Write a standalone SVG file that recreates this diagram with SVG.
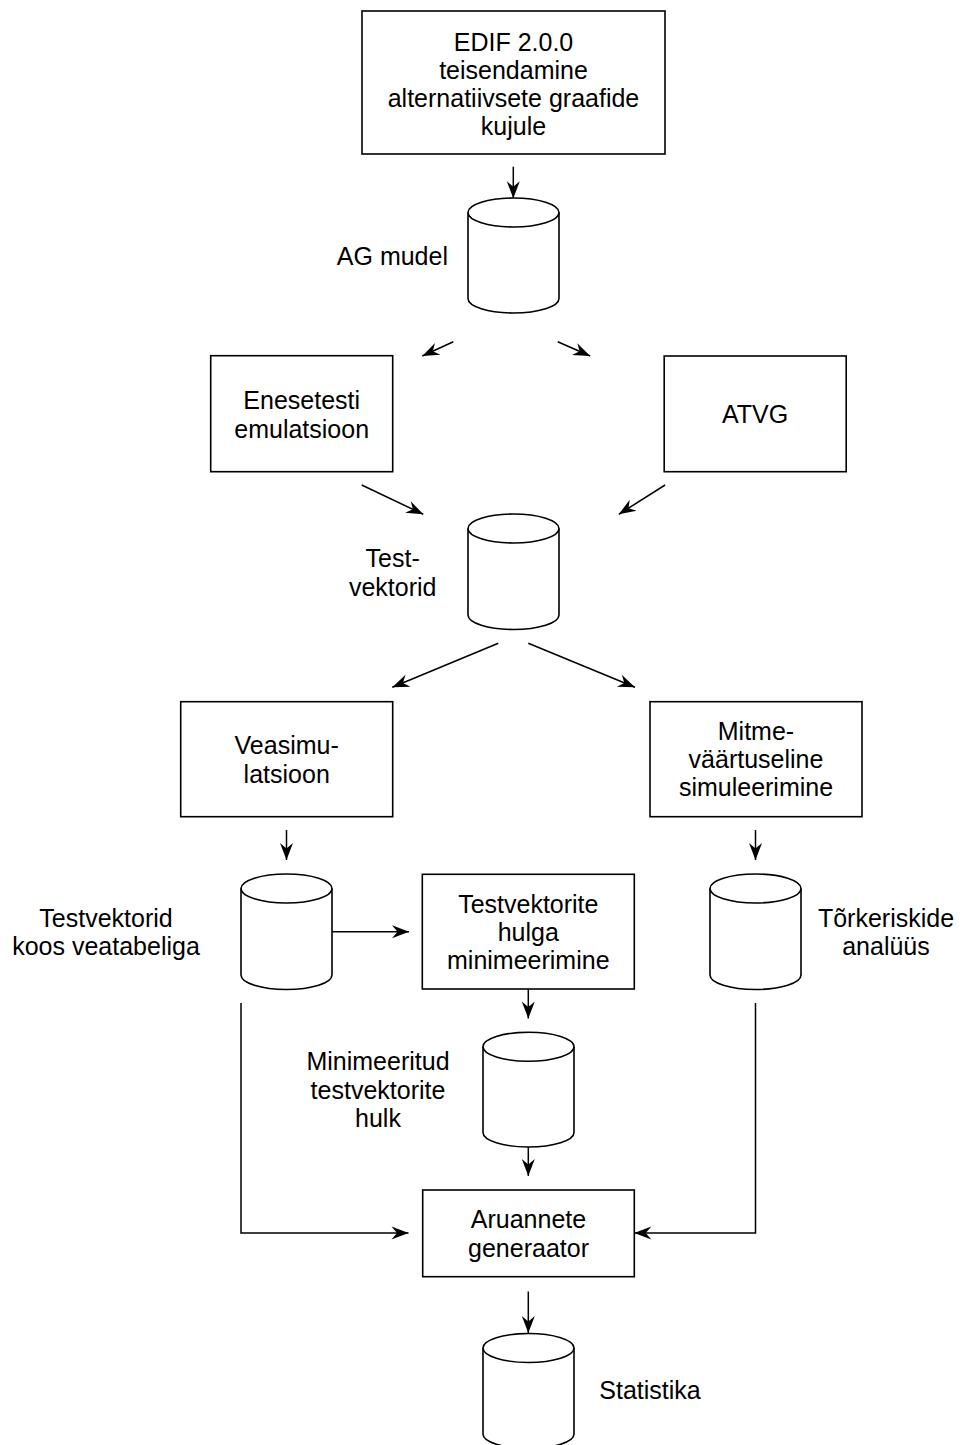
<svg xmlns="http://www.w3.org/2000/svg" width="965" height="1445" viewBox="0 0 965 1445">
  <style>
    .box { fill: #ffffff; stroke: #000000; stroke-width: 1.6; }
    .cyl { fill: #ffffff; stroke: #000000; stroke-width: 1.6; }
    .edge { fill: none; stroke: #000000; stroke-width: 1.5; marker-end: url(#arrow); }
    text { font-family: "Liberation Sans", Arial, Helvetica, sans-serif; font-size: 25px; fill: #000000; }
    .c { text-anchor: middle; }
  </style>
  <defs>
    <marker id="arrow" markerUnits="userSpaceOnUse" viewBox="-19 -8 20 16" refX="0" refY="0" markerWidth="20" markerHeight="16" orient="auto">
      <path d="M0,0 L-17,-6.5 L-11.5,0 L-17,6.5 Z" fill="#000000"/>
    </marker>
  </defs>
  <rect width="965" height="1445" fill="#ffffff"/>

  <!-- connectors -->
  <g id="connectors">
    <line class="edge" x1="513.3" y1="166.7" x2="513.3" y2="198.3"/>
    <line class="edge" x1="453.3" y1="341.7" x2="422.3" y2="356"/>
    <line class="edge" x1="557.7" y1="341.7" x2="590.2" y2="356"/>
    <line class="edge" x1="361.7" y1="485" x2="423.3" y2="514.3"/>
    <line class="edge" x1="665.1" y1="485" x2="618.8" y2="514.3"/>
    <line class="edge" x1="498.3" y1="643.3" x2="392.3" y2="687.3"/>
    <line class="edge" x1="528.3" y1="643.3" x2="635" y2="687.3"/>
    <line class="edge" x1="286.5" y1="830" x2="286.5" y2="860"/>
    <line class="edge" x1="755.5" y1="830" x2="755.5" y2="860"/>
    <line class="edge" x1="332.3" y1="931.7" x2="409" y2="931.7"/>
    <line class="edge" x1="528.3" y1="989" x2="528.3" y2="1018.5"/>
    <line class="edge" x1="528.3" y1="1147" x2="528.3" y2="1176"/>
    <polyline class="edge" points="241,1003 241,1233 408.5,1233"/>
    <polyline class="edge" points="755.5,1003 755.5,1233 634.3,1233"/>
    <line class="edge" x1="528.3" y1="1291.5" x2="528.3" y2="1333"/>
  </g>

  <!-- process boxes and data stores -->
  <g id="edif">
    <rect class="box" x="362" y="11" width="303" height="143"/>
    <text class="c" x="513.5" y="50.5">EDIF 2.0.0</text>
    <text class="c" x="513.5" y="78.5">teisendamine</text>
    <text class="c" x="513.5" y="106.5">alternatiivsete graafide</text>
    <text class="c" x="513.5" y="134.5">kujule</text>
  </g>

  <g id="ag-mudel">
    <path class="cyl" d="M468,212.5 L468,298.5 A45.5,14.5 0 0 0 559,298.5 L559,212.5"/>
    <ellipse class="cyl" cx="513.5" cy="212.5" rx="45.5" ry="14.5"/>
    <text x="448" y="265" text-anchor="end">AG mudel</text>
  </g>

  <g id="enesetesti">
    <rect class="box" x="210.7" y="355.7" width="182" height="116"/>
    <text class="c" x="301.7" y="409">Enesetesti</text>
    <text class="c" x="301.7" y="438">emulatsioon</text>
  </g>

  <g id="atvg">
    <rect class="box" x="664.2" y="356" width="182" height="115.7"/>
    <text class="c" x="755" y="422.5">ATVG</text>
  </g>

  <g id="testvektorid">
    <path class="cyl" d="M468,528.5 L468,615 A45.5,14.5 0 0 0 559,615 L559,528.5"/>
    <ellipse class="cyl" cx="513.5" cy="528.5" rx="45.5" ry="14.5"/>
    <text class="c" x="392.7" y="567.3">Test-</text>
    <text class="c" x="392.7" y="595.7">vektorid</text>
  </g>

  <g id="veasimulatsioon">
    <rect class="box" x="180.7" y="701.7" width="212" height="115"/>
    <text class="c" x="286.7" y="754">Veasimu-</text>
    <text class="c" x="286.7" y="782.5">latsioon</text>
  </g>

  <g id="mitmevaartuseline">
    <rect class="box" x="650" y="701.7" width="212" height="115"/>
    <text class="c" x="756" y="740">Mitme-</text>
    <text class="c" x="756" y="768">väärtuseline</text>
    <text class="c" x="756" y="796">simuleerimine</text>
  </g>

  <g id="veatabel">
    <path class="cyl" d="M241,888.5 L241,975 A45.5,14.5 0 0 0 332,975 L332,888.5"/>
    <ellipse class="cyl" cx="286.5" cy="888.5" rx="45.5" ry="14.5"/>
    <text class="c" x="106" y="926.7">Testvektorid</text>
    <text class="c" x="106" y="955">koos veatabeliga</text>
  </g>

  <g id="minimeerimine">
    <rect class="box" x="422.3" y="874.3" width="212" height="114.7"/>
    <text class="c" x="528.3" y="912.5">Testvektorite</text>
    <text class="c" x="528.3" y="940.5">hulga</text>
    <text class="c" x="528.3" y="968.5">minimeerimine</text>
  </g>

  <g id="torkeriskid">
    <path class="cyl" d="M710,888.5 L710,975 A45.5,14.5 0 0 0 801,975 L801,888.5"/>
    <ellipse class="cyl" cx="755.5" cy="888.5" rx="45.5" ry="14.5"/>
    <text class="c" x="886" y="927">Tõrkeriskide</text>
    <text class="c" x="886" y="955">analüüs</text>
  </g>

  <g id="minimeeritud">
    <path class="cyl" d="M483,1046.7 L483,1132.5 A45.5,14.5 0 0 0 574,1132.5 L574,1046.7"/>
    <ellipse class="cyl" cx="528.5" cy="1046.7" rx="45.5" ry="14.5"/>
    <text class="c" x="378" y="1070">Minimeeritud</text>
    <text class="c" x="378" y="1098.5">testvektorite</text>
    <text class="c" x="378" y="1127">hulk</text>
  </g>

  <g id="aruanded">
    <rect class="box" x="422.7" y="1190" width="211.6" height="86.7"/>
    <text class="c" x="528.5" y="1228.3">Aruannete</text>
    <text class="c" x="528.5" y="1256.7">generaator</text>
  </g>

  <g id="statistika">
    <path class="cyl" d="M483,1348 L483,1434 A45.5,14.5 0 0 0 574,1434 L574,1348"/>
    <ellipse class="cyl" cx="528.5" cy="1348" rx="45.5" ry="14.5"/>
    <text x="599.3" y="1399.3">Statistika</text>
  </g>
</svg>
